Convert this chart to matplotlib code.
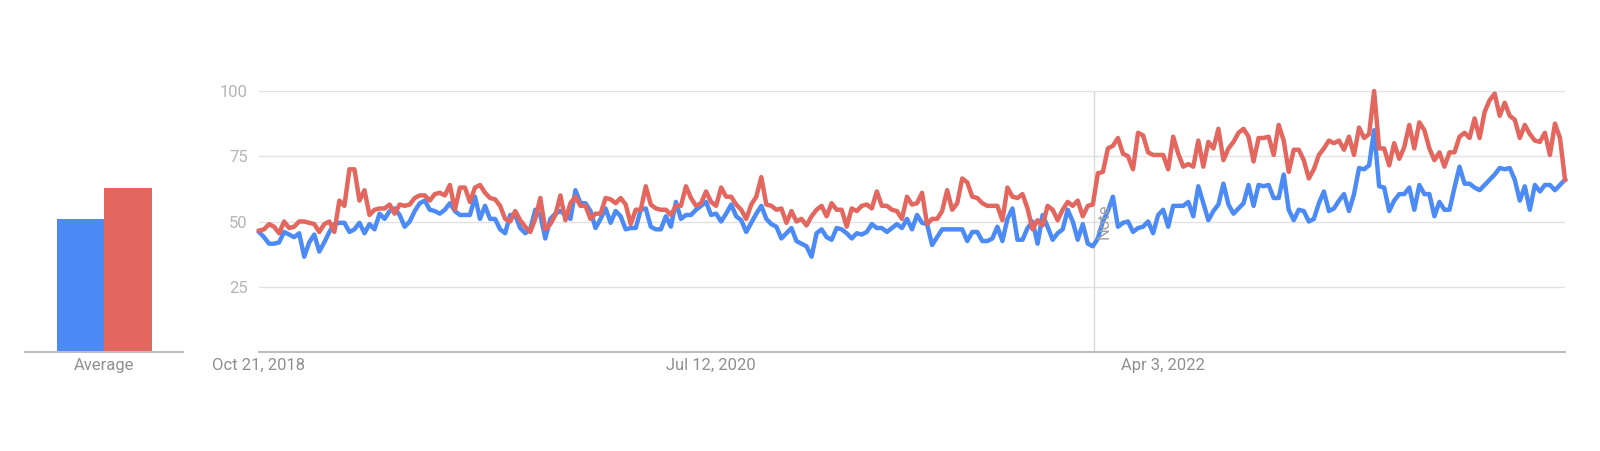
import numpy as np
import pandas as pd
import matplotlib
matplotlib.use("Agg")
import matplotlib.pyplot as plt

plt.rcParams['font.family'] = ['Roboto', 'DejaVu Sans']

BLUE = '#4C8BF5'
RED = '#E3675F'

# weekly interest, Oct 21 2018 onwards (261 weeks)
start_date = "2018-10-21"
note_date = "2021-12-27"
tick_dates = ["2018-10-21", "2020-07-12", "2022-04-03"]
tick_labels = ["Oct 21, 2018", "Jul 12, 2020", "Apr 3, 2022"]
yticks = [25, 50, 75, 100]

avg_values = [51, 63]

blue = [
    46, 44, 41.5, 41.5, 42, 46, 45, 44, 45.5, 36.5, 42, 45, 38.5, 42, 46, 49, 49.5, 49.5, 46, 47,
    49.5, 45.5, 49, 47, 53, 51, 54, 55, 52.5, 48, 50, 54, 57, 58, 54.5, 54,
    53, 54.5, 57, 54, 52.5, 52.5, 52.5, 59.5, 51, 56, 51, 51, 47, 45.5, 52.5, 52.5, 47.5, 45.5,
    47, 54.5, 52.5, 43.5, 51, 53, 54, 52.5, 51, 62, 57, 57, 54, 47.5, 51, 55, 49.5, 54, 52, 47,
    47.5, 47.5, 54.5, 55, 48, 47,
    47, 52, 48, 57.5, 51, 52.5, 52.5, 54.5, 56, 57.5, 52.5, 53, 50, 53, 56.5, 52, 50.5, 46, 49.5,
    53, 56, 51, 49, 48, 43.5, 45.5, 47.5, 42.5, 41.5, 40.5, 36.5, 45.5, 47, 44, 43, 47.5, 47, 45.5,
    43.5, 45.5, 45, 46, 49, 47.5, 47.5,
    46, 47.5, 49, 47.5, 51, 47, 52.5, 49.5, 49, 41, 44, 47, 47, 47, 47, 47, 42.5, 46, 46, 42.5,
    42.5, 43.5, 48, 42.5, 51, 55, 43, 43, 47.5, 50, 41.5, 52.5, 48, 43, 45.5, 47, 54.5, 50, 43, 49,
    41.5, 40.5, 43.5,
    50, 54, 59.5, 48, 49.5, 50, 46, 47.5, 48, 50, 45.5, 52.5, 54.5, 48, 56, 56, 56, 57.5, 52, 63.5,
    57, 50.5, 54, 56.5, 64.5, 56.5, 53, 55, 57, 64, 56, 64, 63.5, 64, 59, 59, 68, 54.5, 50.5, 54.5,
    54, 50, 51, 57,
    61.5, 54, 55, 58, 60.5, 54, 60.5, 70.5, 70, 71.5, 85, 63.5, 63, 54, 58, 60.5, 60.5, 63, 54.5, 64,
    60.5, 60.5, 52, 57.5, 54.5, 54.5, 63, 71, 64.5, 64.5, 63, 62, 64, 66, 68, 70.5, 70, 70.5, 66, 58,
    63.5, 54.5, 64, 61.5, 64, 64, 62, 64, 66,
]

red = [
    46.5, 47, 49, 48, 45.5, 50, 47.5, 48, 50, 50, 49.5, 49, 46, 49, 50, 46, 58, 56, 70, 70,
    58, 62, 52.5, 54.5, 55, 55, 56.5, 53, 56.5, 56, 56.5, 59, 60, 60, 58, 60.5,
    61, 60, 64, 54.5, 63, 63, 57.5, 63, 64, 61, 59, 58.5, 56, 51, 50, 54, 50.5, 48, 46, 51, 59, 47,
    49, 52.5, 60, 50.5, 57, 59.5, 56, 56, 51, 53, 53, 59, 58.5, 57, 59, 56.5, 49, 54.5, 54.5, 63.5,
    56.5, 55,
    54.5, 54.5, 52.5, 56, 56, 63.5, 59, 56, 57, 61.5, 57.5, 56, 63, 59.5, 59.5, 56.5, 54.5, 51, 56.5,
    59.5, 67, 56.5, 56, 54.5, 55, 49.5, 54, 50, 51, 48.5, 52, 54.5, 56, 52, 57, 54.5, 54.5, 48, 55,
    54, 56, 56.5, 55, 61.5, 56,
    56, 54.5, 54, 51, 59.5, 56.5, 57, 61, 49, 51, 51, 54, 62, 54.5, 57, 66.5, 65, 59.5, 59, 57,
    56, 56, 56, 50.5, 63, 59.5, 59, 60.5, 55, 47, 50.5, 48.5, 56, 54.5, 50.5, 54.5, 57.5, 56, 58, 52,
    56, 56.5, 68.5,
    69, 78, 79, 82, 76, 75, 70, 84, 83, 76.5, 75.5, 75.5, 75.5, 70, 82.5, 76, 71, 72, 71, 81,
    71, 80.5, 78, 85.5, 73.5, 78, 80.5, 84, 85.5, 82.5, 73, 82, 82, 82.5, 75.5, 87, 81, 69, 77.5, 77.5,
    73.5, 66.5, 70, 75.5,
    78, 81, 80, 81, 77.5, 82.5, 75.5, 86, 82, 83.5, 100, 78, 78, 71.5, 80, 74, 78.5, 87, 78, 88,
    85, 78, 73.5, 76.5, 71, 76.5, 76.5, 82.5, 84, 82, 89.5, 82, 92, 96.5, 99, 90.5, 95.5, 90.5, 89, 82,
    87, 83.5, 81, 80.5, 84, 75.5, 87.5, 82, 66,
]

dates = pd.date_range(start_date, periods=len(blue), freq="7D")

W, H = 1600, 451
fig = plt.figure(figsize=(W / 100, H / 100), dpi=100)

y0, y100 = 352, 91
bottom = (H - y0) / H
height = (y0 - y100) / H

# average bars on the left
axb = fig.add_axes([25 / W, bottom, (183 - 25) / W, height])
axb.bar([0, 1], avg_values, width=1.0, color=[BLUE, RED])
axb.set_xlim(-1.17, 2.15)
axb.set_ylim(0, 100)
axb.set_yticks([])
axb.set_xticks([0.5])
axb.set_xticklabels(["Average"], fontsize=12, color='#8f8f8f')
axb.tick_params(axis='x', length=0, pad=4)
for s in ['top', 'right', 'left']:
    axb.spines[s].set_visible(False)
axb.spines['bottom'].set_color('#bdbdbd')
axb.spines['bottom'].set_linewidth(1.5)

# main time series
ax = fig.add_axes([259 / W, bottom, (1565 - 259) / W, height])
ax.plot(dates, blue, color=BLUE, lw=3.2, solid_joinstyle='round', clip_on=False, zorder=3)
ax.plot(dates, red, color=RED, lw=3.2, solid_joinstyle='round', clip_on=False, zorder=4)
ax.set_xlim(dates[0], dates[-1])
ax.set_ylim(0, 100)

ax.set_yticks(yticks)
ax.set_yticklabels([str(v) for v in yticks], fontsize=12, color='#b5b5b5')
ax.tick_params(axis='y', length=0, pad=8)
ax.grid(axis='y', color='#e2e2e2', lw=1)
ax.set_xticks(pd.to_datetime(tick_dates))
ax.set_xticklabels(tick_labels, fontsize=12, color='#8f8f8f')
ax.tick_params(axis='x', length=0, pad=4)
for s in ['top', 'right', 'left']:
    ax.spines[s].set_visible(False)
ax.spines['bottom'].set_color('#bdbdbd')
ax.spines['bottom'].set_linewidth(1.5)

nd = pd.Timestamp(note_date)
ax.axvline(nd, color='#dadada', lw=1, zorder=2)
ax.annotate("Note", xy=(nd, 50), xytext=(11, 0), textcoords='offset pixels',
            rotation=90, ha='center', va='center', fontsize=12, color='#a0a0a0')

fig.savefig("out.png", dpi=100)
